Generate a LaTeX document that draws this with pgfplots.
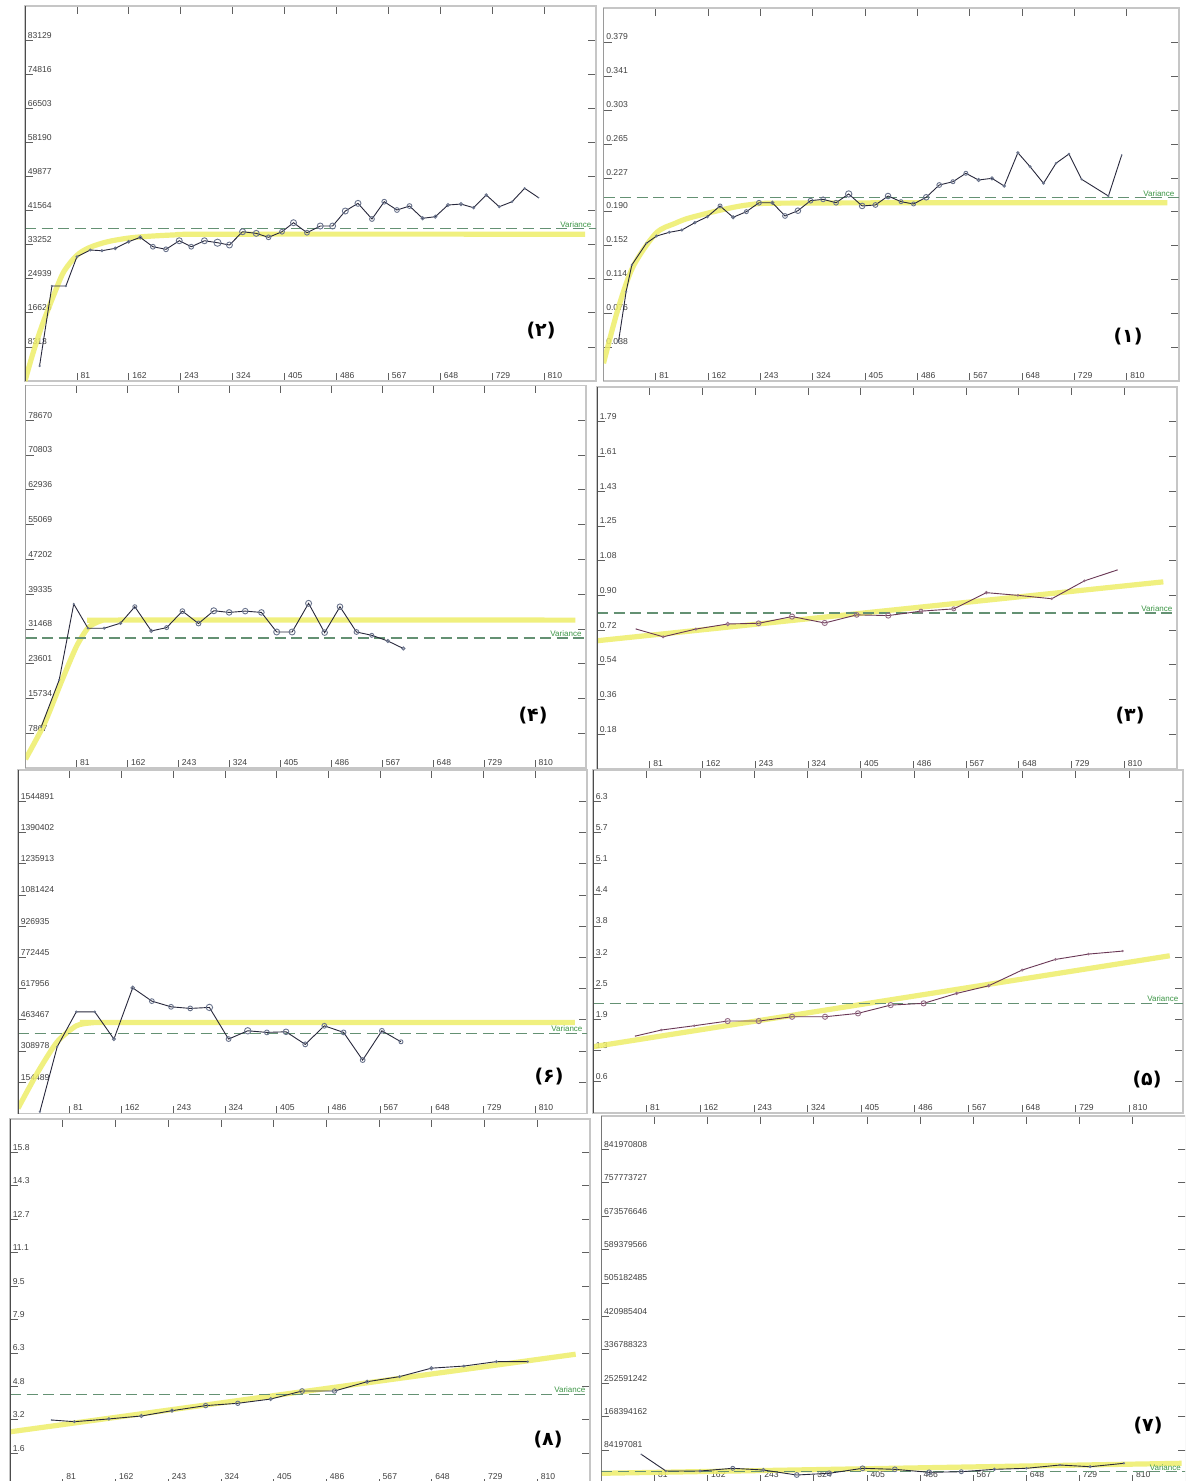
\documentclass[border=0pt]{standalone}
\usepackage{fontspec}
\setmainfont{Liberation Sans}
\newfontfamily\fafont[Script=Arabic]{DejaVu Sans}
\usepackage{pgfplots}
\pgfplotsset{compat=1.18}
\definecolor{fitc}{RGB}{238,238,105}
\definecolor{varc}{RGB}{100,145,115}
\definecolor{vartext}{RGB}{60,150,70}
\definecolor{lnA}{RGB}{40,40,60}
\definecolor{mkA}{RGB}{105,115,140}
\definecolor{lnB}{RGB}{105,55,85}
\definecolor{mkB}{RGB}{150,110,135}
\pgfplotsset{
  vario/.style={
    scale only axis, anchor=south west,
    xmin=0, xmax=891, ymin=0,
    scaled x ticks=false, scaled y ticks=false,
    xtick={81,162,243,324,405,486,567,648,729,810},
    xticklabels={81,162,243,324,405,486,567,648,729,810},
    tick align=inside, major tick length=4pt,
    tick style={gray!75!black, line width=0.4pt},
    axis line style={gray!45, line width=0.6pt},
    ticklabel style={font=\fontsize{4.3}{5}\selectfont, text=black!75, inner sep=0.6pt},
    xticklabel style={anchor=south west, xshift=1pt, yshift=0.6pt},
    yticklabel style={anchor=south west, xshift=0.6pt, yshift=0.2pt},
    clip=true,
  },
  fit/.style={color=fitc, line width=2.6pt, opacity=0.85},
  varl/.style={color=varc, line width=0.65pt, dash pattern=on 5.5pt off 2.8pt},
  data/.style 2 args={color=#1, line width=0.45pt, mark=o, scatter,
    scatter/use mapped color={draw=#2},
    visualization depends on={\thisrow{s}\as\ms},
    scatter/@pre marker code/.append style={/tikz/mark size=\ms, /tikz/line width=0.4pt}},
}
\newcommand\axleft{\draw[gray!60!black, line width=0.8pt] (rel axis cs:0,0) -- (rel axis cs:0,1);}
\newcommand\vartxt[1]{\node[anchor=south east, inner sep=0.5pt, text=vartext, font=\fontsize{4}{5}\selectfont] at (axis cs:886,#1) {Variance};}
\begin{document}
\begin{tikzpicture}
\path[use as bounding box, clip] (0,0) rectangle (592.5pt,-740.5pt);
\fill[white] (0,0) rectangle (592.5pt,-740.5pt);

% ---------- Panel 2 (top left)
\begin{axis}[vario, at={(12.5pt,-190.5pt)}, width=285.5pt, height=187.5pt, ymax=91442,
  ytick={8313,16626,24939,33252,41564,49877,58190,66503,74816,83129},
  yticklabels={8313,16626,24939,33252,41564,49877,58190,66503,74816,83129}]
\addplot[fit, smooth, tension=0.5] coordinates {(0,0) (10,5500) (20,10500) (30,15000) (45,21000) (60,26500) (80,30500) (100,32500) (130,34000) (170,35000) (230,35600) (300,35800) (874,35800)};
\addplot[varl] coordinates {(0,37130) (891,37130)};
\addplot[data={lnA}{mkA}] table[x=x,y=y,row sep=\\] {
x y s\\ 22.7 3657 0.3\\ 42 23160 0.3\\ 63.8 23160 0.3\\ 81 30300 0.5\\ 101.8 31940 0.5\\ 120 31770 0.5\\
140.8 32350 0.7\\ 161.6 33960 0.7\\ 179.8 35030 0.8\\ 199.6 32740 1.2\\ 220 32110 1.2\\ 240.7 34200 1.5\\
259.4 32740 1.2\\ 280 34200 1.5\\ 300.4 33720 1.8\\ 319 33160 1.5\\ 339.5 36400 1.5\\ 360.8 36000 1.5\\
380 35030 1.2\\ 401 36400 1.2\\ 419 38600 1.5\\ 440 36160 1.2\\ 460.7 37790 1.5\\ 480 37790 1.5\\
499.8 41450 1.5\\ 519.6 43320 1.5\\ 541.4 39500 1.2\\ 560.6 43720 1.2\\ 580.4 41690 1.2\\ 600 42660 1.2\\
620.4 39670 0.8\\ 640.2 40060 0.8\\ 660 42910 0.8\\ 680.3 43150 0.8\\ 700 42250 0.6\\ 719.8 45350 0.6\\
740 42490 0.5\\ 760 43720 0.4\\ 779.6 46980 0.3\\ 801.5 44690 0.1\\
};
\vartxt{37130}
\axleft
\end{axis}

% ---------- Panel 1 (top right)
\begin{axis}[vario, at={(301.75pt,-190.5pt)}, width=287.75pt, height=186.5pt, ymax=0.417,
  ytick={0.038,0.076,0.114,0.152,0.190,0.227,0.265,0.303,0.341,0.379},
  yticklabels={0.038,0.076,0.114,0.152,0.190,0.227,0.265,0.303,0.341,0.379}]
\addplot[fit, smooth, tension=0.5] coordinates {(0,0.0198) (22,0.0794) (45.7,0.1278) (81,0.165) (110,0.176) (140,0.1837) (223,0.1968) (320,0.199) (873,0.1993)};
\addplot[varl] coordinates {(0,0.2050) (891,0.2050)};
\addplot[data={lnA}{mkA}] table[x=x,y=y,row sep=\\] {
x y s\\ 23.2 0.0439 0.3\\ 35 0.0998 0.3\\ 43.8 0.1297 0.3\\ 66.3 0.154 0.3\\ 82.2 0.1621 0.5\\ 101.8 0.1662 0.5\\
121.3 0.1688 0.5\\ 141.4 0.177 0.6\\ 160.9 0.1837 0.6\\ 180.4 0.1957 1.0\\ 200.6 0.183 0.8\\ 221.2 0.1893 1.0\\
240.7 0.1993 1.2\\ 261.4 0.1993 0.8\\ 281 0.1845 1.2\\ 301 0.1904 1.4\\ 320.5 0.2016 1.2\\ 340 0.2031 1.2\\
360 0.1993 1.2\\ 379.6 0.2091 1.6\\ 400.4 0.1957 1.4\\ 421 0.1968 1.2\\ 440.5 0.2068 1.4\\ 460.6 0.2005 1.0\\
480 0.1979 1.0\\ 499.6 0.2054 1.4\\ 519.8 0.2191 1.2\\ 541 0.2228 1.0\\ 561 0.2322 1.0\\ 580.6 0.2247 0.8\\
601.4 0.2266 0.8\\ 620.3 0.218 0.6\\ 641.5 0.2552 0.6\\ 660.4 0.2396 0.5\\ 681.2 0.221 0.5\\ 700.5 0.2434 0.4\\
720.6 0.2538 0.4\\ 740.2 0.2255 0.3\\ 781.7 0.2068 0.3\\ 802.3 0.2527 0.1\\
};
\vartxt{0.2050}
\axleft
\end{axis}

% ---------- Panel 4 (row 2 left)
\begin{axis}[vario, at={(12.75pt,-384pt)}, width=280.25pt, height=191.25pt, ymax=86537,
  ytick={7867,15734,23601,31468,39335,47202,55069,62936,70803,78670},
  yticklabels={7867,15734,23601,31468,39335,47202,55069,62936,70803,78670}]
\addplot[fit, smooth, tension=0.4] coordinates {(0,2000) (30,10000) (57,19500) (81,27500) (100,31800) (120,33300) (140,33460) (874,33460)};
\addplot[varl] coordinates {(0,29410) (891,29410)};
\addplot[data={lnA}{mkA}] table[x=x,y=y,row sep=\\] {
x y s\\ 25 9310 0.3\\ 53.6 19960 0.3\\ 76.7 37100 0.3\\ 99.3 31620 0.4\\ 125 31620 0.5\\ 151 32760 0.6\\
173.8 36490 1.0\\ 200 31010 0.8\\ 224.4 31760 1.0\\ 249.4 35490 1.2\\ 275 32690 1.2\\ 299.3 35580 1.5\\
323.7 35200 1.4\\ 349.3 35490 1.4\\ 375 35200 1.4\\ 399.3 30770 1.5\\ 423.8 30770 1.5\\ 450 37250 1.5\\
475.5 30630 1.4\\ 499.9 36490 1.4\\ 526.1 30770 1.2\\ 550.5 30020 1.0\\ 576.1 28730 0.8\\ 600.6 27040 0.8\\
};
\vartxt{29410}
\axleft
\end{axis}

% ---------- Panel 3 (row 2 right)
\begin{axis}[vario, at={(298.5pt,-384.5pt)}, width=290pt, height=191pt, ymax=1.969,
  ytick={0.179,0.358,0.537,0.716,0.895,1.074,1.253,1.432,1.611,1.79},
  yticklabels={0.18,0.36,0.54,0.72,0.90,1.08,1.25,1.43,1.61,1.79}]
\addplot[fit] coordinates {(0,0.661) (870,0.9647)};
\addplot[varl] coordinates {(0,0.8048) (891,0.8048)};
\addplot[data={lnB}{mkB}] table[x=x,y=y,row sep=\\] {
x y s\\ 60.2 0.7213 0.1\\ 101.6 0.6815 0.5\\ 151.9 0.7213 0.5\\ 200.9 0.7475 0.9\\ 248.2 0.7511 1.2\\
299.6 0.7857 1.3\\ 349.8 0.7527 1.3\\ 398.9 0.7945 1.2\\ 447.4 0.7909 1.3\\ 497.7 0.8136 1.0\\
548 0.8254 1.0\\ 598.2 0.909 0.6\\ 646.6 0.8951 0.4\\ 698.6 0.8776 0.4\\ 748.8 0.9699 0.4\\ 799 1.0256 0.1\\
};
\vartxt{0.8048}
\axleft
\end{axis}

% ---------- Panel 6 (row 3 left)
\begin{axis}[vario, at={(9pt,-556.75pt)}, width=284.5pt, height=171.75pt, ymax=1699380,
  ytick={154489,308978,463467,617956,772445,926935,1081424,1235913,1390402,1544891},
  yticklabels={154489,308978,463467,617956,772445,926935,1081424,1235913,1390402,1544891}]
\addplot[fit, smooth, tension=0.4] coordinates {(0,25700) (31.3,206600) (61.4,354800) (91.3,433900) (115.4,448700) (140,450000) (872,450000)};
\addplot[varl] coordinates {(0,396300) (891,396300)};
\addplot[data={lnA}{mkA}] table[x=x,y=y,row sep=\\] {
x y s\\ 34.3 8900 0.3\\ 61.4 330100 0.3\\ 91.3 503100 0.4\\ 120.2 503100 0.4\\ 150.2 368200 0.8\\
179.6 621700 0.9\\ 209.6 556000 1.2\\ 239.7 527800 1.2\\ 269.7 519900 1.2\\ 299.7 524800 1.6\\
329.7 368200 1.2\\ 359.7 409200 1.6\\ 389.7 401300 1.2\\ 419.7 404300 1.4\\ 449.8 342000 1.2\\
479.7 433900 1.2\\ 509.8 401300 1.2\\ 539.7 264400 1.2\\ 569.8 409200 1.2\\ 599.7 354800 1.0\\
};
\vartxt{396300}
\axleft
\end{axis}

% ---------- Panel 5 (row 3 right)
\begin{axis}[vario, at={(296.5pt,-556.5pt)}, width=295pt, height=171.5pt, ymax=6.963,
  ytick={0.633,1.266,1.899,2.532,3.165,3.798,4.431,5.064,5.697,6.33},
  yticklabels={0.6,1.3,1.9,2.5,3.2,3.8,4.4,5.1,5.7,6.3}]
\addplot[fit] coordinates {(0,1.345) (871,3.192)};
\addplot[varl] coordinates {(0,2.226) (891,2.226)};
\addplot[data={lnB}{mkB}] table[x=x,y=y,row sep=\\] {
x y s\\ 64.1 1.562 0.1\\ 103 1.684 0.4\\ 152.9 1.772 0.4\\ 203.3 1.867 1.3\\ 250.3 1.867 1.3\\
300.6 1.954 1.3\\ 350.4 1.954 1.3\\ 400.2 2.023 1.3\\ 449.5 2.191 1.3\\ 499.3 2.226 1.3\\
549.1 2.428 0.6\\ 597.6 2.583 0.6\\ 648 2.902 0.5\\ 698.4 3.118 0.4\\ 748.2 3.226 0.4\\ 799.8 3.287 0.3\\
};
\vartxt{2.226}
\axleft
\end{axis}

% ---------- Panel 8 (row 4 left)
\begin{axis}[vario, at={(5pt,-743.3pt)}, width=290pt, height=183.8pt, ymax=17.38,
  xticklabel style={yshift=2.2pt},
  ytick={1.58,3.16,4.74,6.32,7.90,9.48,11.06,12.64,14.22,15.8},
  yticklabels={1.6,3.2,4.8,6.3,7.9,9.5,11.1,12.7,14.3,15.8}]
\addplot[fit] coordinates {(0,2.59) (869,6.26)};
\addplot[varl] coordinates {(0,4.37) (891,4.37)};
\addplot[data={lnA}{mkA}] table[x=x,y=y,row sep=\\] {
x y s\\ 63.7 3.15 0.1\\ 98.9 3.07 0.5\\ 151.9 3.20 0.6\\ 201.8 3.34 0.8\\ 248.8 3.59 0.8\\
300.5 3.83 1.1\\ 349.9 3.94 1.1\\ 400.5 4.14 0.8\\ 448.7 4.52 1.2\\ 498.6 4.52 1.1\\
548.6 4.96 0.8\\ 598.6 5.20 0.5\\ 647.3 5.60 0.8\\ 697.3 5.70 0.5\\ 747.2 5.91 0.5\\ 795.4 5.91 0.3\\
};
\vartxt{4.37}
\axleft
\end{axis}

% ---------- Panel 7 (row 4 right)
\begin{axis}[vario, at={(300.7pt,-741.7pt)}, width=292.05pt, height=183.7pt, ymax=926167889,
  xticklabel style={yshift=1.6pt},
  ytick={84197081,168394162,252591242,336788323,420985404,505182485,589379566,673576646,757773727,841970808},
  yticklabels={84197081,168394162,252591242,336788323,420985404,505182485,589379566,673576646,757773727,841970808}]
\addplot[fit] coordinates {(0,25500000) (885,50700000)};
\addplot[varl] coordinates {(0,29500000) (891,29500000)};
\addplot[data={lnA}{mkA}] table[x=x,y=y,row sep=\\] {
x y s\\ 60.7 73400000 0.1\\ 98.4 31300000 0.3\\ 150.4 31300000 0.5\\ 200.4 38100000 1.0\\
247 33800000 0.8\\ 298 21200000 1.2\\ 347.4 25500000 1.2\\ 398.4 38100000 1.2\\ 447.6 35500000 1.2\\
499.8 28000000 1.2\\ 549 29500000 1.0\\ 599.4 35500000 0.6\\ 648.4 38100000 0.4\\ 699.5 46400000 0.3\\
745.5 42100000 0.5\\ 797 50700000 0.3\\
};
\vartxt{29500000}
\axleft
\end{axis}

% ---------- panel numbers
\begin{scope}[every node/.style={font=\fafont\bfseries\fontsize{9.5}{11}\selectfont, inner sep=0pt}]
\node at (270.5pt,-165.5pt) {(۲)};
\node at (564pt,-168.5pt) {(۱)};
\node at (266.5pt,-358pt) {(۴)};
\node at (565pt,-358pt) {(۳)};
\node at (274.5pt,-538.5pt) {(۶)};
\node at (573.5pt,-540pt) {(۵)};
\node at (274pt,-720pt) {(۸)};
\node at (574pt,-713pt) {(۷)};
\end{scope}
\end{tikzpicture}
\end{document}
